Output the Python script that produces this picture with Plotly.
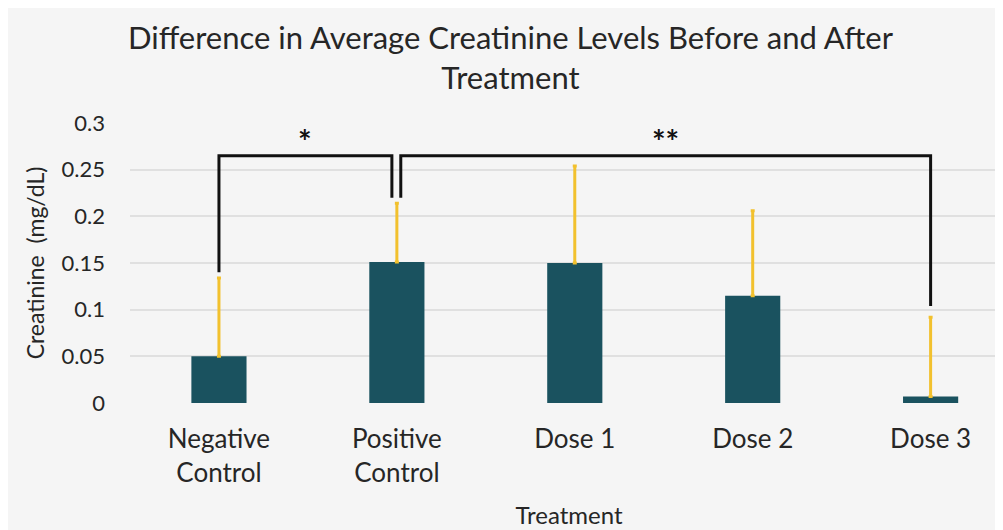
import plotly.graph_objects as go

categories = ["Negative<br>Control", "Positive<br>Control", "Dose 1", "Dose 2", "Dose 3"]
means = [0.050, 0.151, 0.150, 0.115, 0.007]
errors_up = [0.084, 0.063, 0.104, 0.091, 0.085]
y_ticks = [0, 0.05, 0.1, 0.15, 0.2, 0.25, 0.3]
y_tick_labels = ["0", "0.05", "0.1", "0.15", "0.2", "0.25", "0.3"]

# significance brackets: (from index, to index, label, left-end height, right-end height)
bracket_from = [0, 1]
bracket_to = [1, 4]
bracket_labels = ["*", "**"]
bracket_level = 0.265
bracket_left_end = [0.140, 0.220]
bracket_right_end = [0.220, 0.104]

FONT = "Lato"
TXT = "#262626"

fig = go.Figure()
fig.add_trace(go.Bar(
    x=list(range(len(categories))),
    y=means,
    width=0.31,
    marker=dict(color="#1a525f", line=dict(width=0)),
    error_y=dict(type="data", array=errors_up, arrayminus=[0]*len(means),
                 symmetric=False, color="#f2c12e", thickness=3, width=2),
))

shapes = []
annotations = []
for i in range(len(bracket_from)):
    x0 = bracket_from[i] + (0.022 if i > 0 else 0)
    x1 = bracket_to[i] - (0.028 if i == 0 else 0)
    path = f"M {x0},{bracket_left_end[i]} L {x0},{bracket_level} L {x1},{bracket_level} L {x1},{bracket_right_end[i]}"
    shapes.append(dict(type="path", path=path, xref="x", yref="y",
                       line=dict(color="#111111", width=3)))
    annotations.append(dict(x=(x0 + x1) / 2, y=bracket_level, xref="x", yref="y",
                            text="<b>" + bracket_labels[i] + "</b>", showarrow=False, yanchor="bottom",
                            yshift=-7, font=dict(family=FONT, size=32, color="#111111")))

# title as annotation for precise placement
annotations.append(dict(
    text="Difference in Average Creatinine Levels Before and After<br>Treatment",
    xref="paper", yref="paper", x=0.434, y=1.236, xanchor="center", yanchor="middle",
    showarrow=False, font=dict(family=FONT, size=31, color=TXT)))

fig.update_layout(
    width=1003, height=530,
    margin=dict(l=122, r=3, t=115, b=135),
    paper_bgcolor="#f5f5f5", plot_bgcolor="#f5f5f5",
    showlegend=False,
    font=dict(family=FONT, color=TXT),
    shapes=shapes,
    annotations=annotations,
)
fig.update_xaxes(
    tickmode="array", tickvals=list(range(len(categories))), ticktext=categories,
    range=[-0.5, 4.435], showgrid=False, zeroline=False, showline=False,
    tickfont=dict(family=FONT, size=26, color=TXT), ticklabelstandoff=18,
    title=dict(text="Treatment", font=dict(family=FONT, size=24, color=TXT), standoff=20),
)
fig.update_yaxes(
    range=[0, 0.3], tickmode="array", tickvals=y_ticks, ticktext=y_tick_labels,
    showgrid=True, gridcolor="#e0e0e0", gridwidth=1.5, zeroline=False, showline=False,
    tickfont=dict(family=FONT, size=22, color=TXT), ticklabelstandoff=24,
    title=dict(text="Creatinine  (mg/dL)", font=dict(family=FONT, size=23, color=TXT), standoff=10),
)

fig.write_html("out.html")
